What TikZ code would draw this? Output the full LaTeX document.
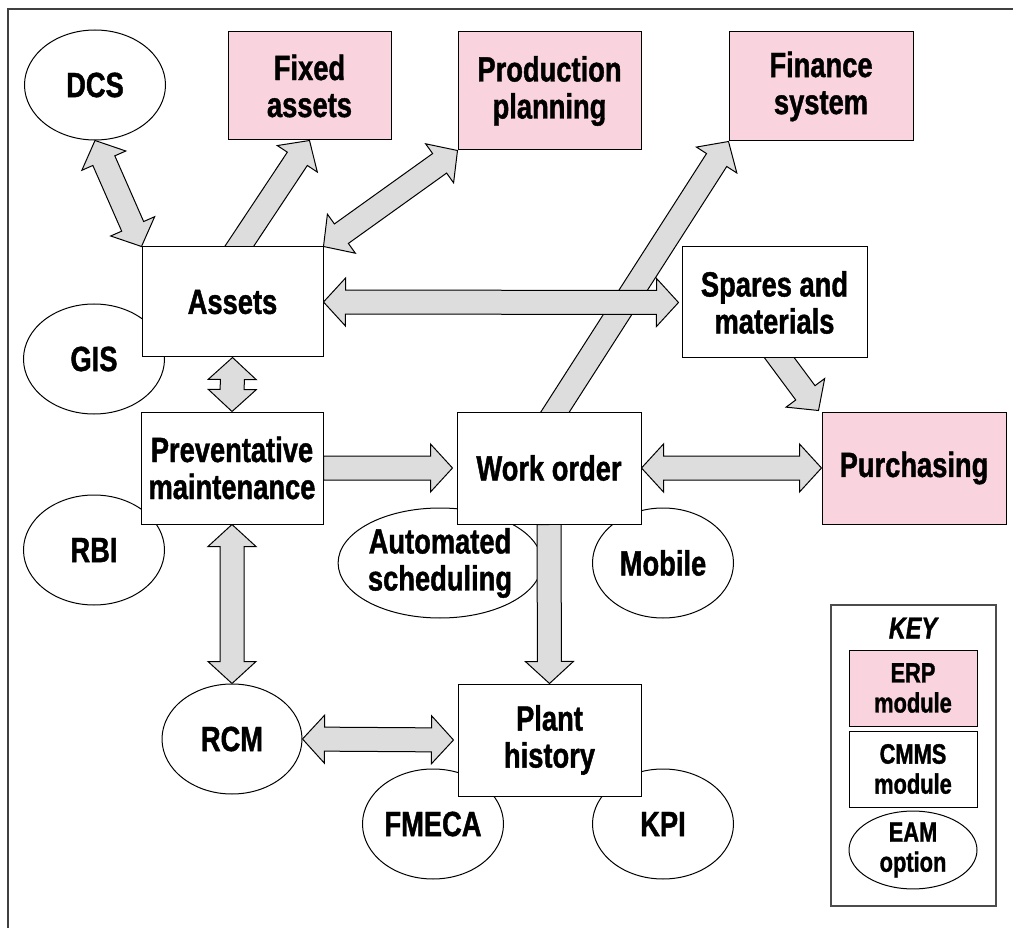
\documentclass[tikz,border=0pt]{standalone}
\usepackage{fontspec}
\setmainfont{Liberation Sans}[FakeStretch=0.78, BoldFeatures={FakeBold=1.2}, BoldItalicFeatures={FakeBold=1.2}]
\usetikzlibrary{calc,shapes.geometric}
\pgfdeclarelayer{ell}
\pgfdeclarelayer{arr}
\pgfsetlayers{ell,arr,main}
\definecolor{erppink}{RGB}{249,211,222}
\definecolor{arrowgray}{RGB}{221,221,221}
\tikzset{
  base/.style={draw=black, line width=1pt, align=center, inner sep=0pt, text=black,
    font=\bfseries\fontsize{35}{37}\selectfont},
  cmmsbox/.style={base, rectangle, fill=white},
  erpbox/.style={base, rectangle, fill=erppink},
  eamopt/.style={base, ellipse, fill=white, minimum width=141pt, minimum height=110pt},
  keyfont/.style={font=\bfseries\fontsize{28}{30}\selectfont},
  blk/.style={draw=black, line width=1pt, fill=arrowgray, line join=miter},
}
% double-headed block arrow between two points
\newcommand{\twoway}[2]{%
  \draw[blk] let \p1=(#1), \p2=(#2), \n1={atan2(\y2-\y1,\x2-\x1)}, \n2={\n1+90}, \n3={\n1+180}, \n4={\n1-90} in
   (\p1) -- ($(\p1)+(\n1:22pt)+(\n2:24pt)$) -- ($(\p1)+(\n1:22pt)+(\n2:12pt)$)
   -- ($(\p2)+(\n3:22pt)+(\n2:12pt)$) -- ($(\p2)+(\n3:22pt)+(\n2:24pt)$) -- (\p2)
   -- ($(\p2)+(\n3:22pt)+(\n4:24pt)$) -- ($(\p2)+(\n3:22pt)+(\n4:12pt)$)
   -- ($(\p1)+(\n1:22pt)+(\n4:12pt)$) -- ($(\p1)+(\n1:22pt)+(\n4:24pt)$) -- cycle;}
% single-headed block arrow: tail #1, tip #2
\newcommand{\oneway}[2]{%
  \draw[blk] let \p1=(#1), \p2=(#2), \n1={atan2(\y2-\y1,\x2-\x1)}, \n2={\n1+90}, \n3={\n1+180}, \n4={\n1-90} in
   ($(\p1)+(\n2:12pt)$) -- ($(\p2)+(\n3:22pt)+(\n2:12pt)$) -- ($(\p2)+(\n3:22pt)+(\n2:24pt)$) -- (\p2)
   -- ($(\p2)+(\n3:22pt)+(\n4:24pt)$) -- ($(\p2)+(\n3:22pt)+(\n4:12pt)$) -- ($(\p1)+(\n4:12pt)$) -- cycle;}
\begin{document}
\begin{tikzpicture}[x=1pt,y=-1pt]
\useasboundingbox (0,0) rectangle (1013,928);
\begin{pgfonlayer}{ell}
\fill[white] (0,0) rectangle (1013,928);
% outer frame
\draw[line width=1.5pt, draw=black!75] (8,940) -- (8,9) -- (1020,9);
% EAM options (ellipses)
\node[eamopt] (dcs) at (95,85) {DCS};
\node[eamopt] (gis) at (94,359) {GIS};
\node[eamopt] (rbi) at (94,550) {RBI};
\node[eamopt, minimum width=194pt] (auto) at (440,563) {Automated\\scheduling};
\node[eamopt] (mobile) at (663,563) {Mobile};
\node[eamopt, minimum width=140pt] (rcm) at (232,739) {RCM};
\node[eamopt] (fmeca) at (433,824) {FMECA};
\node[eamopt] (kpi) at (663,824) {KPI};
\end{pgfonlayer}

% ERP modules
\node[erpbox, minimum width=163pt, minimum height=108pt] (fixed) at (309.5,86) {Fixed\\assets};
\node[erpbox, minimum width=183pt, minimum height=118pt] (prod) at (549.5,91) {Production\\planning};
\node[erpbox, minimum width=184pt, minimum height=109pt] (finance) at (821,86.5) {Finance\\system};
\node[erpbox, minimum width=184pt, minimum height=112pt] (purch) at (914,468) {Purchasing};

% CMMS modules
\node[cmmsbox, minimum width=181pt, minimum height=110pt] (assets) at (232.5,302) {Assets};
\node[cmmsbox, minimum width=185pt, minimum height=111pt] (spares) at (774.5,302.5) {Spares and\\materials};
\node[cmmsbox, minimum width=182pt, minimum height=112pt] (prev) at (232,468) {Preventative\\maintenance};
\node[cmmsbox, minimum width=184pt, minimum height=112pt] (work) at (549,468) {Work order};
\node[cmmsbox, minimum width=183pt, minimum height=112pt] (plant) at (549.5,740) {Plant\\history};

% connectors (under the boxes)
\begin{pgfonlayer}{arr}
\twoway{dcs.south}{assets.north west}
\oneway{$(assets.north)+(0,10)$}{fixed.south}
\twoway{assets.north east}{prod.south west}
\oneway{$(work.north)+(0,10)$}{finance.south west}
\twoway{assets.east}{$(spares.west)+(-3,0)$}
\oneway{$(spares.south)+(-2,-10)$}{$(purch.north west)+(-3,-1)$}
\twoway{assets.south}{prev.north}
\oneway{prev.east}{$(work.west)+(-4,0)$}
\twoway{prev.south}{rcm.north}
\twoway{work.east}{purch.west}
\oneway{work.south}{plant.north}
\twoway{rcm.east}{$(plant.west)+(-4,0)$}
\end{pgfonlayer}

% key
\node[draw=black!70, line width=1.5pt, fill=white, minimum width=165pt, minimum height=301pt, inner sep=0pt] (key) at (913.5,755.5) {};
\node[font=\bfseries\itshape\fontsize{30}{32}\selectfont, inner sep=0pt] (keytitle) at (913,628) {KEY};
\node[erpbox, keyfont, minimum width=128pt, minimum height=76pt] (erp) at (913,688) {ERP\\module};
\node[cmmsbox, keyfont, minimum width=128pt, minimum height=76pt] (cmms) at (913,769) {CMMS\\module};
\node[eamopt, keyfont, minimum width=128pt, minimum height=75pt] (eam) at (913,850) {EAM\\option};
\end{tikzpicture}
\end{document}
